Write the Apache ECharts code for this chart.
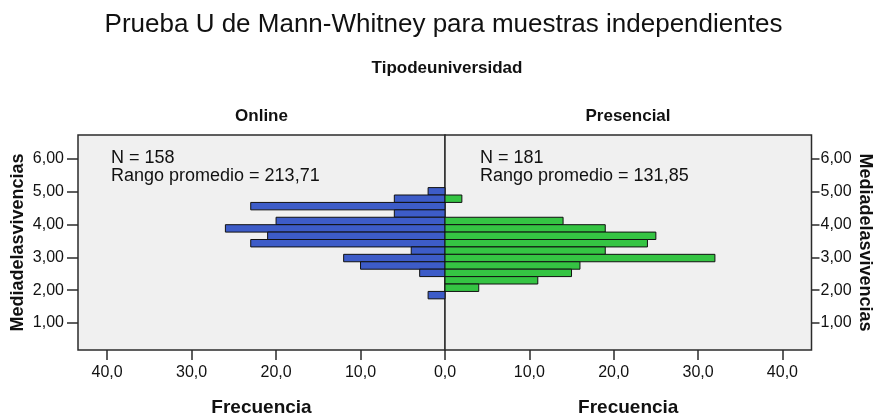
<!DOCTYPE html>
<html>
<head>
<meta charset="utf-8">
<script src="https://cdn.jsdelivr.net/npm/echarts@6/dist/echarts.min.js"></script>
<style>
  html, body { margin: 0; padding: 0; background: #fff; }
  #chart { width: 876px; height: 419px; }
</style>
</head>
<body>
<div id="chart"></div>
<script>
// histogram bins (centre of each bin on Mediadelasvivencias), top to bottom
const binCenters = [5.007, 4.782, 4.556, 4.331, 4.105, 3.879, 3.654, 3.428, 3.202, 2.977, 2.751, 2.526, 2.300, 2.074, 1.849];
const binWidth = 0.2256;
const onlineCounts = [2, 6, 23, 6, 20, 26, 21, 23, 4, 12, 10, 3, 0, 0, 2];
const presencialCounts = [0, 2, 0, 0, 14, 19, 25, 24, 19, 32, 16, 15, 11, 4, 0];
const yTicks = [1, 2, 3, 4, 5, 6];
const xTicks = [0, 10, 20, 30, 40];
const groups = ['Online', 'Presencial'];
const stats = [
    { n: 158, rango: '213,71' },
    { n: 181, rango: '131,85' },
];

const font = '"Liberation Sans", Arial, sans-serif';
const boxColor = '#2b2b2b';

const chart = echarts.init(document.getElementById('chart'));

function histItem(color) {
    return function (params, api) {
        const n = api.value(0);
        const c = api.value(1);
        if (!n) return null;
        const p1 = api.coord([0, c - binWidth / 2]);
        const p2 = api.coord([n, c + binWidth / 2]);
        return {
            type: 'rect',
            shape: {
                x: Math.min(p1[0], p2[0]),
                y: Math.min(p1[1], p2[1]),
                width: Math.abs(p2[0] - p1[0]),
                height: Math.abs(p2[1] - p1[1]),
            },
            style: { fill: color, stroke: '#111', lineWidth: 1 },
        };
    };
}

function xAxisFor(idx, inverse, labels) {
    return {
        type: 'value',
        gridIndex: idx,
        inverse: inverse,
        min: 0,
        max: 43.45,
        name: 'Frecuencia',
        nameLocation: 'middle',
        nameGap: 48,
        nameTextStyle: { fontFamily: font, fontSize: 19, fontWeight: 'bold', color: '#111' },
        axisLine: { show: false, onZero: false },
        axisTick: { show: true, length: 10, customValues: xTicks, lineStyle: { color: boxColor, width: 1.5 } },
        axisLabel: {
            customValues: labels,
            margin: 15,
            fontFamily: font,
            fontSize: 16,
            color: '#111',
            formatter: (v) => v.toFixed(1).replace('.', ','),
        },
        splitLine: { show: false },
    };
}

function yAxisFor(idx, pos) {
    const left = pos === 'left';
    return {
        type: 'value',
        gridIndex: idx,
        position: pos,
        min: 0.18,
        max: 6.72,
        name: 'Mediadelasvivencias',
        nameLocation: 'middle',
        nameRotate: left ? 90 : -90,
        nameGap: left ? 51 : 44,
        nameTextStyle: { fontFamily: font, fontSize: 18, fontWeight: 'bold', color: '#111' },
        axisLine: { show: false, onZero: false },
        axisTick: { show: true, length: left ? 11 : 8, customValues: yTicks, lineStyle: { color: boxColor, width: 1.5 } },
        axisLabel: {
            customValues: yTicks,
            margin: left ? 14 : 9,
            fontFamily: font,
            fontSize: 16,
            color: '#111',
            formatter: (v) => v.toFixed(2).replace('.', ','),
        },
        splitLine: { show: false },
    };
}

function txt(x, y, text, size, weight, align) {
    return {
        type: 'text',
        x: x,
        y: y,
        style: {
            text: text,
            fontFamily: font,
            fontSize: size,
            fontWeight: weight,
            fill: '#111',
            align: align || 'center',
            verticalAlign: 'middle',
            lineHeight: 18,
        },
    };
}

const option = {
    backgroundColor: '#fff',
    animation: false,
    grid: [
        {
            left: 78, right: 431, top: 135, bottom: 69, outerBoundsMode: 'none',
            show: true, backgroundColor: '#f0f0f0', borderColor: boxColor, borderWidth: 1.5,
        },
        {
            left: 445, right: 64.5, top: 135, bottom: 69, outerBoundsMode: 'none',
            show: true, backgroundColor: '#f0f0f0', borderColor: boxColor, borderWidth: 1.5,
        },
    ],
    xAxis: [xAxisFor(0, true, xTicks), xAxisFor(1, false, xTicks.slice(1))],
    yAxis: [yAxisFor(0, 'left'), yAxisFor(1, 'right')],
    series: [
        {
            type: 'custom',
            name: groups[0],
            xAxisIndex: 0,
            yAxisIndex: 0,
            renderItem: histItem('#3d5cc8'),
            data: onlineCounts.map((v, i) => [v, binCenters[i]]),
        },
        {
            type: 'custom',
            name: groups[1],
            xAxisIndex: 1,
            yAxisIndex: 1,
            renderItem: histItem('#35c443'),
            data: presencialCounts.map((v, i) => [v, binCenters[i]]),
        },
    ],
    graphic: [
        txt(443.5, 25, 'Prueba U de Mann-Whitney para muestras independientes', 26, 'normal'),
        txt(447, 68, 'Tipodeuniversidad', 17, 'bold'),
        txt(261.5, 116, groups[0], 17, 'bold'),
        txt(628, 116, groups[1], 17, 'bold'),
        txt(111, 167, 'N = ' + stats[0].n + '\nRango promedio = ' + stats[0].rango, 18, 'normal', 'left'),
        txt(480, 167, 'N = ' + stats[1].n + '\nRango promedio = ' + stats[1].rango, 18, 'normal', 'left'),
    ],
};

chart.setOption(option);
</script>
</body>
</html>
